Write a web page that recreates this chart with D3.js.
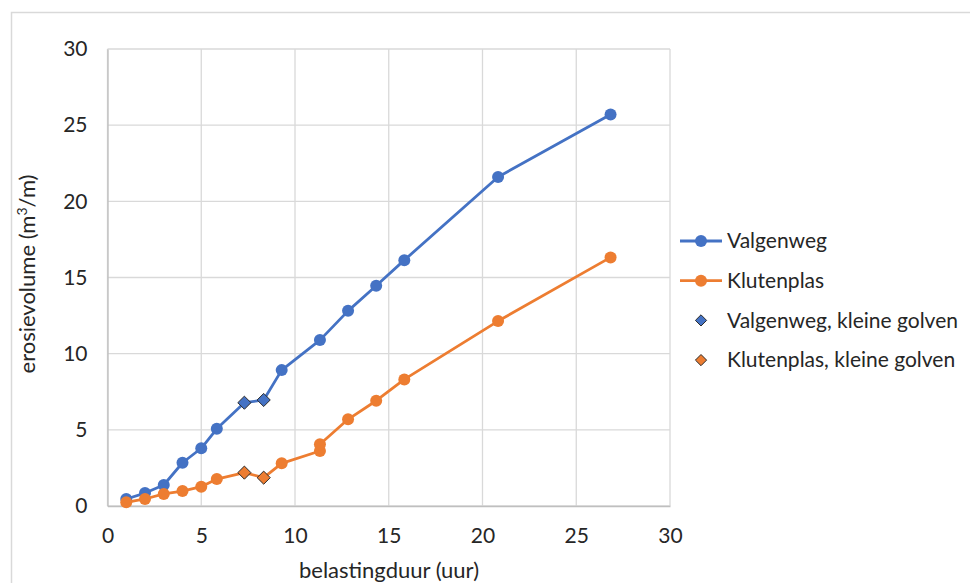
<!DOCTYPE html>
<html>
<head>
<meta charset="utf-8">
<script src="https://cdn.jsdelivr.net/npm/d3@7"></script>
<style>
  body { margin: 0; background: #fff; }
  svg { display: block; font-family: Lato, "Open Sans", sans-serif; }
</style>
</head>
<body>
<svg id="chart"></svg>
<script>
// belastingduur (uur) and erosievolume per series
var valgenwegX = [1, 2, 3, 4, 5, 5.83, 9.29, 11.33, 12.83, 14.33, 15.83, 20.83, 26.83];
var valgenwegY = [0.46, 0.85, 1.38, 2.84, 3.79, 5.07, 8.92, 10.89, 12.81, 14.46, 16.14, 21.6, 25.7];
var klutenplasX = [1, 2, 3, 4, 5, 5.83, 9.29, 11.33, 11.33, 12.83, 14.33, 15.83, 20.83, 26.83];
var klutenplasY = [0.24, 0.46, 0.79, 0.98, 1.27, 1.77, 2.8, 3.61, 4.05, 5.69, 6.91, 8.31, 12.14, 16.32];
var valgenwegKleinX = [7.3, 8.33];
var valgenwegKleinY = [6.78, 6.96];
var klutenplasKleinX = [7.3, 8.33];
var klutenplasKleinY = [2.19, 1.86];
var ticks = [0, 5, 10, 15, 20, 25, 30];

var blue = "#4472C4", orange = "#ED7D31";
var fontSize = "21px";

var size = { width: 970, height: 583 };
var svg = d3.select("#chart")
    .attr("width", size.width)
    .attr("height", size.height);

// outer chart border
svg.append("rect")
    .attr("x", 11.5).attr("y", 12.5)
    .attr("width", 980).attr("height", 600)
    .attr("fill", "#fff")
    .attr("stroke", "#d9d9d9")
    .attr("stroke-width", 1.5);

var plot = { left: 107.5, right: 670, top: 49, bottom: 506 };

var x = d3.scaleLinear().domain([0, 30]).range([plot.left, plot.right]);
var y = d3.scaleLinear().domain([0, 30]).range([plot.bottom, plot.top]);

// gridlines
svg.append("g")
    .selectAll("line.vgrid")
    .data(ticks)
    .enter()
    .append("line")
    .attr("x1", d => x(d)).attr("x2", d => x(d))
    .attr("y1", plot.top).attr("y2", plot.bottom)
    .attr("stroke", "#d9d9d9")
    .attr("stroke-width", 1.3);

svg.append("g")
    .selectAll("line.hgrid")
    .data(ticks)
    .enter()
    .append("line")
    .attr("x1", plot.left).attr("x2", plot.right)
    .attr("y1", d => y(d)).attr("y2", d => y(d))
    .attr("stroke", "#d9d9d9")
    .attr("stroke-width", 1.3);

// axes (labels only, Excel style)
var xAxis = svg.append("g")
    .attr("transform", "translate(0," + plot.bottom + ")")
    .call(d3.axisBottom(x).tickValues(ticks).tickSize(0).tickPadding(22));
var yAxis = svg.append("g")
    .attr("transform", "translate(" + plot.left + ",0)")
    .call(d3.axisLeft(y).tickValues(ticks).tickSize(0).tickPadding(20));
[xAxis, yAxis].forEach(a => {
    a.select(".domain").attr("stroke", "#bfbfbf").attr("stroke-width", 1.3);
    a.selectAll("text")
        .attr("fill", "#262626")
        .style("font-size", fontSize)
        .style("font-family", "Lato, 'Open Sans', sans-serif");
});

// axis titles
svg.append("text")
    .attr("x", 389).attr("y", 578)
    .attr("text-anchor", "middle")
    .attr("fill", "#262626")
    .style("font-size", "22px")
    .text("belastingduur (uur)");

var yt = svg.append("text")
    .attr("transform", "translate(35,274) rotate(-90)")
    .attr("text-anchor", "middle")
    .attr("fill", "#262626")
    .style("font-size", "22px");
yt.append("tspan").text("erosievolume (m");
yt.append("tspan").attr("dy", -8).style("font-size", "14px").text("3");
yt.append("tspan").attr("dy", 8).text("/m)");

// lines run through the kleine-golven points as well
function merged(xs, ys, kx, ky) {
    var pts = xs.map((d, i) => [d, ys[i]]).concat(kx.map((d, i) => [d, ky[i]]));
    // the two points at 11.33 are joined lower first
    return pts.sort((a, b) => a[0] - b[0] || a[1] - b[1]);
}
var line = d3.line().x(d => x(d[0])).y(d => y(d[1]));

var series = [
    { color: blue, xs: valgenwegX, ys: valgenwegY, kx: valgenwegKleinX, ky: valgenwegKleinY },
    { color: orange, xs: klutenplasX, ys: klutenplasY, kx: klutenplasKleinX, ky: klutenplasKleinY }
];

series.forEach(s => {
    svg.append("path")
        .attr("d", line(merged(s.xs, s.ys, s.kx, s.ky)))
        .attr("fill", "none")
        .attr("stroke", s.color)
        .attr("stroke-width", 2.8)
        .attr("stroke-linejoin", "round");
    svg.append("g")
        .selectAll("circle")
        .data(s.xs.map((d, i) => [d, s.ys[i]]))
        .enter()
        .append("circle")
        .attr("cx", d => x(d[0]))
        .attr("cy", d => y(d[1]))
        .attr("r", 6)
        .attr("fill", s.color);
});

var diamond = d3.symbol().type(d3.symbolDiamond2).size(110);
series.forEach(s => {
    svg.append("g")
        .selectAll("path")
        .data(s.kx.map((d, i) => [d, s.ky[i]]))
        .enter()
        .append("path")
        .attr("d", diamond)
        .attr("transform", d => "translate(" + x(d[0]) + "," + y(d[1]) + ")")
        .attr("fill", s.color)
        .attr("stroke", "#2b2b2b")
        .attr("stroke-width", 1);
});

// legend
var legendItems = [
    { label: "Valgenweg", color: blue, kind: "line" },
    { label: "Klutenplas", color: orange, kind: "line" },
    { label: "Valgenweg, kleine golven", color: blue, kind: "diamond" },
    { label: "Klutenplas, kleine golven", color: orange, kind: "diamond" }
];
var legend = svg.append("g")
    .selectAll("g")
    .data(legendItems)
    .enter()
    .append("g")
    .attr("transform", (d, i) => "translate(680," + (241 + i * 39.7) + ")");

legend.filter(d => d.kind === "line").append("line")
    .attr("x1", 0).attr("x2", 42)
    .attr("stroke", d => d.color)
    .attr("stroke-width", 2.8);
legend.filter(d => d.kind === "line").append("circle")
    .attr("cx", 21).attr("r", 6)
    .attr("fill", d => d.color);
legend.filter(d => d.kind === "diamond").append("path")
    .attr("d", d3.symbol().type(d3.symbolDiamond2).size(80))
    .attr("transform", "translate(21,0)")
    .attr("fill", d => d.color)
    .attr("stroke", "#2b2b2b")
    .attr("stroke-width", 1);
legend.append("text")
    .attr("x", 47).attr("dy", "0.35em")
    .attr("fill", "#262626")
    .style("font-size", fontSize)
    .text(d => d.label);
</script>
</body>
</html>
